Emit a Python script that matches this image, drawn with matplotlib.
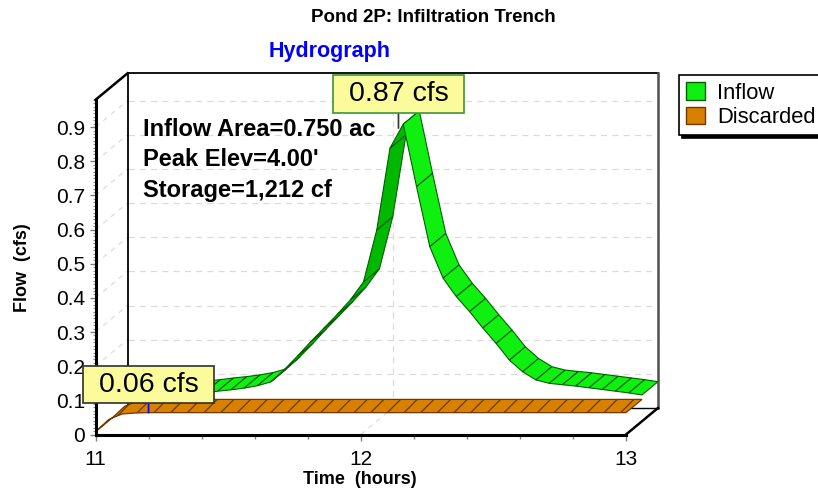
"""Pond 2P hydrograph, drawn as a HydroCAD-style 3D ribbon chart."""

import matplotlib.pyplot as plt
import numpy as np
from matplotlib.patches import Patch, Polygon
from matplotlib.ticker import FixedLocator

plt.rcParams["font.family"] = ["Liberation Sans", "DejaVu Sans"]
plt.rcParams["hatch.linewidth"] = 0.9

# hydrograph ordinates, 0.05 hr time step
TIME = [
    11.00, 11.05, 11.10, 11.15, 11.20, 11.25, 11.30, 11.35, 11.40, 11.45,
    11.50, 11.55, 11.60, 11.65, 11.70, 11.75, 11.80, 11.85, 11.90, 11.95,
    12.00, 12.05, 12.10, 12.15, 12.20, 12.25, 12.30, 12.35, 12.40, 12.45,
    12.50, 12.55, 12.60, 12.65, 12.70, 12.75, 12.80, 12.85, 12.90, 12.95,
    13.00,
]
INFLOW = [
    0.062, 0.064, 0.067, 0.070, 0.073, 0.076, 0.079, 0.083, 0.088, 0.092,
    0.097, 0.104, 0.115, 0.150, 0.190, 0.232, 0.272, 0.312, 0.355, 0.408,
    0.560, 0.800, 0.870, 0.687, 0.511, 0.419, 0.365, 0.321, 0.273, 0.228,
    0.179, 0.145, 0.121, 0.111, 0.107, 0.103, 0.098, 0.093, 0.088, 0.083,
    0.077,
]
DISCARDED = [
    0.008, 0.044, 0.060, 0.063, 0.064, 0.064, 0.064, 0.064, 0.064, 0.064,
    0.064, 0.064, 0.064, 0.064, 0.064, 0.064, 0.064, 0.064, 0.064, 0.064,
    0.064, 0.064, 0.064, 0.064, 0.064, 0.064, 0.064, 0.064, 0.064, 0.064,
    0.064, 0.064, 0.064, 0.064, 0.064, 0.064, 0.064, 0.064, 0.064, 0.064,
    0.064,
]

Y_TICKS = [0.0, 0.1, 0.2, 0.3, 0.4, 0.5, 0.6, 0.7, 0.8, 0.9]
Y_LABELS = ["0", "0.1", "0.2", "0.3", "0.4", "0.5", "0.6", "0.7", "0.8", "0.9"]
X_TICKS = [11, 12, 13]
X_LABELS = ["11", "12", "13"]
X_MINOR = [11.2, 11.4, 11.6, 11.8, 12.2, 12.4, 12.6, 12.8]

INFO = ["Inflow Area=0.750 ac", "Peak Elev=4.00'", "Storage=1,212 cf"]

GREEN, GREEN_DARK, GREEN_EDGE = "#10f010", "#00b800", "#006000"
ORANGE, ORANGE_EDGE = "#d88000", "#6e3800"
GRID = "#dcdcdc"
CALLOUT = "#fbfb9c"

W, H = 818, 498
# front plane in pixels: 11 h at x=95.5, 13 h at x=626, 0 cfs at y=434.5
PX_HR, PX_CFS = 265.25, 341.5
# depth of the 3D box, in data units
DX, DY = 32 / PX_HR, 26.5 / PX_CFS
WALL_TOP = 0.98


def ribbon_quads(ax, t, v, d0, d1, z):
    """One quad per time step; faces turned away from the viewer get shaded."""
    t = np.asarray(t)
    v = np.asarray(v)
    for i in range(len(t) - 1):
        quad = np.array([
            [t[i] + d0 * DX, v[i] + d0 * DY],
            [t[i + 1] + d0 * DX, v[i + 1] + d0 * DY],
            [t[i + 1] + d1 * DX, v[i + 1] + d1 * DY],
            [t[i] + d1 * DX, v[i] + d1 * DY],
        ])
        x, y = quad[:, 0] * PX_HR, quad[:, 1] * PX_CFS
        area = np.sum(x * np.roll(y, -1) - np.roll(x, -1) * y)
        ax.add_patch(Polygon(quad, closed=True, fc=GREEN if area >= 0 else GREEN_DARK,
                             ec=GREEN_EDGE, lw=0.8, zorder=z, clip_on=False))


def ribbon_flat(ax, t, v, d0, d1, z):
    t = np.asarray(t)
    v = np.asarray(v)
    front = np.column_stack([t + d0 * DX, v + d0 * DY])
    back = np.column_stack([t + d1 * DX, v + d1 * DY])
    ax.add_patch(Polygon(np.vstack([front, back[::-1]]), closed=True, fc=ORANGE,
                         ec=ORANGE_EDGE, hatch="//", lw=0.9, zorder=z, clip_on=False))


def callout(ax, text, xy, lift, edge, stem):
    # wide, short box: horizontal pad 0.56 em, vertical pad squeezed by mutation_aspect
    ax.annotate(text, xy=xy, xytext=(0, lift), textcoords="offset pixels",
                ha="center", va="center", fontsize=20.5,
                bbox=dict(boxstyle="square,pad=0.56", mutation_aspect=0.36,
                          fc=CALLOUT, ec=edge, lw=1.2),
                arrowprops=dict(arrowstyle="-", color=stem, lw=1.2, shrinkA=0, shrinkB=0),
                zorder=8, annotation_clip=False)


fig = plt.figure(figsize=(W / 100, H / 100), dpi=100)
ax = fig.add_axes([95.5 / W, (H - 434.5) / H, 530.5 / W, PX_CFS / H])
ax.set_xlim(11, 13)
ax.set_ylim(0, 1)
ax.patch.set_visible(False)

# back wall, side wall and floor of the box
bx0, bx1 = 11 + DX, 13 + DX
line = dict(clip_on=False, solid_capstyle="projecting")
for v in Y_TICKS[1:]:
    ax.plot([bx0, bx1], [v + DY, v + DY], color=GRID, lw=0.9, ls=(0, (5, 4)), zorder=1, **line)
    ax.plot([11, bx0], [v, v + DY], color=GRID, lw=0.9, ls=(0, (4, 4)), zorder=1, **line)
ax.plot([12 + DX, 12 + DX], [DY, WALL_TOP + DY], color=GRID, lw=0.9, ls=(0, (5, 4)), zorder=1, **line)
ax.plot([12, 12 + DX], [0, DY], color=GRID, lw=0.9, ls=(0, (4, 4)), zorder=1, **line)
ax.plot([bx0, bx0, bx1], [DY, WALL_TOP + DY, WALL_TOP + DY], color="black", lw=1.3, zorder=2, **line)
ax.plot([bx1, bx1], [DY, WALL_TOP + DY], color="#505050", lw=1.8, zorder=2, **line)
ax.plot([bx0, bx1], [DY, DY], color="black", lw=1.0, zorder=2, **line)
ax.plot([11, bx0], [WALL_TOP, WALL_TOP + DY], color="black", lw=1.8, zorder=2, **line)
ax.plot([13, bx1], [0, DY], color="black", lw=1.8, zorder=2, **line)

ribbon_quads(ax, TIME, INFLOW, 0.5, 1.0, z=3)
ribbon_flat(ax, TIME, DISCARDED, 0.0, 0.5, z=4)

# front axes
for side in ("top", "right"):
    ax.spines[side].set_visible(False)
ax.spines["left"].set_bounds(0, WALL_TOP)
ax.spines["bottom"].set_bounds(11, 13)
for side in ("left", "bottom"):
    ax.spines[side].set_linewidth(2.2)
    ax.spines[side].set_zorder(6)

ax.set_yticks(Y_TICKS)
ax.set_yticklabels(Y_LABELS)
ax.yaxis.set_minor_locator(FixedLocator(np.arange(0, WALL_TOP + 0.001, 0.01)))
ax.set_xticks(X_TICKS)
ax.set_xticklabels(X_LABELS)
ax.xaxis.set_minor_locator(FixedLocator(X_MINOR))
ax.tick_params(axis="y", which="major", length=4, width=1, color="#808080", labelsize=15, pad=3.5)
ax.tick_params(axis="y", which="minor", length=2.2, width=0.8, color="#909090")
ax.tick_params(axis="x", which="major", length=4, width=1, color="#808080", labelsize=15, pad=7)
ax.tick_params(axis="x", which="minor", length=3, width=1, color="#808080")

ax.set_ylabel("Flow  (cfs)", fontsize=13, fontweight="bold", va="center")
ax.yaxis.set_label_coords(-0.1380, 0.4876)
ax.set_xlabel("Time  (hours)", fontsize=13, fontweight="bold", va="center")
ax.xaxis.set_label_coords(0.4986, -0.1332)

# peak call-outs
i_in = int(np.argmax(INFLOW))
callout(ax, f"{INFLOW[i_in]:.2f} cfs", (TIME[i_in] + 0.35 * DX, INFLOW[i_in] + 0.35 * DY),
        34, "#3a963a", "#303030")
i_ds = int(np.argmax(DISCARDED))
callout(ax, f"{DISCARDED[i_ds]:.2f} cfs", (TIME[i_ds], DISCARDED[i_ds]),
        28, "#303030", "#0000ff")

for k, txt in enumerate(INFO):
    fig.text(143 / W, 1 - (136 + 30.5 * k) / H, txt, fontsize=17, fontweight="bold",
             va="baseline", zorder=9)

fig.text(433.5 / W, 1 - 18 / H, "Pond 2P: Infiltration Trench", ha="center", va="center",
         fontsize=13.5, fontweight="bold")
fig.text(330 / W, 1 - 52 / H, "Hydrograph", ha="center", va="center", fontsize=15.5,
         fontweight="bold", color="#0000ff")

handles = [
    Patch(fc=GREEN, ec=GREEN_EDGE, lw=1, label="Inflow"),
    Patch(fc=ORANGE, ec=ORANGE_EDGE, lw=1, label="Discarded"),
]
leg = fig.legend(handles=handles, loc="upper left", bbox_to_anchor=(679 / W, 1 - 75 / H),
                 frameon=True, fancybox=False, edgecolor="black", framealpha=1,
                 shadow={"color": "black", "alpha": 1}, fontsize=15.8, handlelength=0.85,
                 handleheight=0.85, handletextpad=0.55, labelspacing=0.15, borderpad=0.33,
                 borderaxespad=0)
leg.get_frame().set_linewidth(1.2)

fig.savefig("out.png", dpi=100, facecolor="white")
